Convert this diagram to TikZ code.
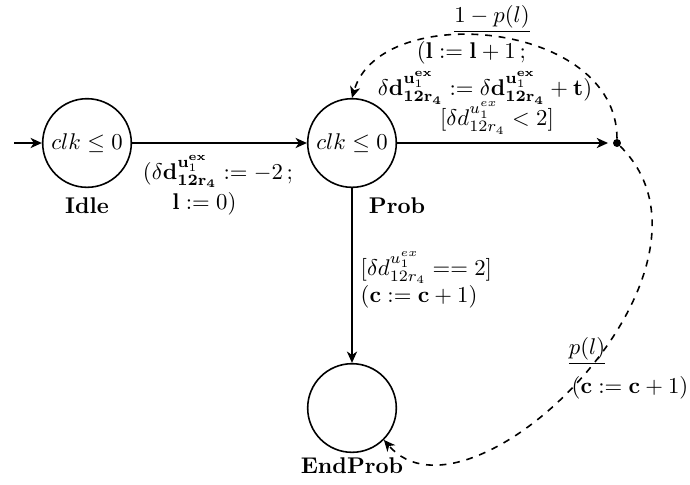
\documentclass[tikz,border=0pt]{standalone}
\usepackage{amsmath}
\usetikzlibrary{arrows.meta}
\begin{document}
\begin{tikzpicture}[x=0.44pt,y=-0.44pt,
  state/.style={circle,draw,line width=0.7pt,minimum size=39pt,inner sep=0pt},
  conn/.style={line width=0.7pt,-{Stealth[length=5pt,width=4.5pt,inset=1.5pt]}},
  dconn/.style={conn,dashed},
  txt/.style={inner sep=1pt},
  dotnode/.style={circle,fill,inner sep=0pt,minimum size=3.5pt}]
\useasboundingbox (0,0) rectangle (690,484);
% states
\node[state] (idle) at (87,143) {$clk\leq 0$};
\node[state] (prob) at (352,143) {$clk\leq 0$};
\node[state] (end) at (352,408) {};
\node[dotnode] (dot) at (617,143) {};
\coordinate (start) at (14,143);
% state names
\node[txt] (idlelbl) at (87,206) {\textbf{Idle}};
\node[txt] (problbl) at (397,206) {\textbf{Prob}};
\node[txt] (endlbl) at (352,466) {\textbf{EndProb}};
% solid edges
\draw[conn] (start) -- (idle);
\draw[conn] (idle) -- (prob);
\draw[conn,shorten >=2pt] (prob) -- (dot);
\draw[conn] (prob) -- (end);
% dashed edges
\draw[dconn] (dot.north) .. controls (617,20) and (380,0) .. (prob.north);
\draw[dconn] (dot.south east) .. controls (745,270) and (470,540) .. (end.south east);
% labels
\node[txt,align=center] (l1) at (218,185)
  {$(\delta\mathbf{d}^{\mathbf{u}_1^{\mathbf{ex}}}_{\mathbf{12r_4}} := -2\,;$\\[1pt]
   $\mathbf{l} := 0)$\hspace*{12pt}};
\node[txt] (l2) at (492,19) {$\underline{1-p(l)}$};
\node[txt,align=center] (l3) at (485,73)
  {$(\mathbf{l} := \mathbf{l}+1\,;$\hspace*{12pt}\\[2pt]
   $\delta\mathbf{d}^{\mathbf{u}_1^{\mathbf{ex}}}_{\mathbf{12r_4}} := \delta\mathbf{d}^{\mathbf{u}_1^{\mathbf{ex}}}_{\mathbf{12r_4}} + \mathbf{t})$};
\node[txt] (l4) at (497,118) {$[\delta d^{u_1^{ex}}_{12r_4} < 2]$};
\node[txt,align=left,anchor=west] (l5) at (358,280)
  {$[\delta d^{u_1^{ex}}_{12r_4} == 2]$\\ $(\mathbf{c} := \mathbf{c}+1)$};
\node[txt] (l6) at (587,351) {$\underline{p(l)}$};
\node[txt] (l7) at (630,388) {$(\mathbf{c} := \mathbf{c}+1)$};
\end{tikzpicture}
\end{document}
